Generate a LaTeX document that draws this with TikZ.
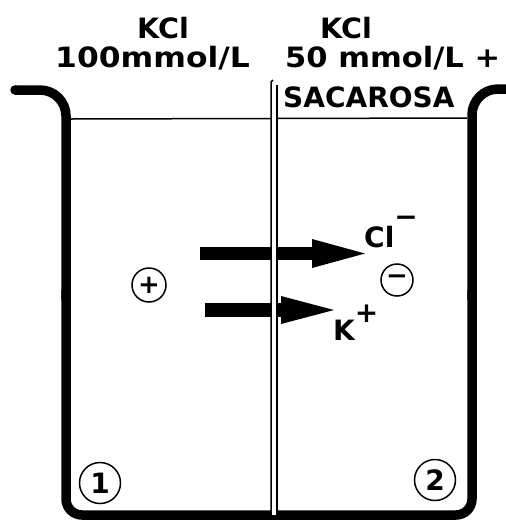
\documentclass[tikz,border=0pt]{standalone}
\usepackage{fontspec}
\setmainfont{DejaVu Sans}
\begin{document}
\begin{tikzpicture}[x=1pt,y=-1pt,
  wall/.style={line width=9.5pt},
  lbl/.style={inner sep=0pt, font=\fontsize{28}{30}\selectfont\bfseries},
  sign/.style={circle, draw, line width=1.5pt, inner sep=0pt, font=\fontsize{26}{28}\selectfont\bfseries},
  num/.style={circle, draw, line width=1.5pt, inner sep=0pt, font=\fontsize{28}{30}\selectfont\bfseries}]
\useasboundingbox (0,0) rectangle (506,520);
% beaker
\draw[wall, rounded corners=26pt] (15,90) -- (66,90) -- (66,300);
\draw[wall, rounded corners=16pt] (66,290) -- (66,515) -- (472,515) -- (472,290);
\draw[wall, rounded corners=26pt] (472,300) -- (472,89) -- (506,89);
\fill (15,90) circle[radius=4.75pt];
% liquid surface
\draw[line width=1.5pt] (71,119) -- (467,118);
% arrows
\fill (200,247) rectangle (314,260);
\fill (312,239) -- (365,253.5) -- (312,268) -- cycle;
\fill (205,303) rectangle (283,317);
\fill (281,296) -- (334,310) -- (281,324) -- cycle;
% membrane
\path[fill=white] (271,82) rectangle (277,515);
\draw[line width=1.5pt] (271,515) -- (271,82) -- (273,80);
\draw[line width=1.5pt] (277,85) -- (277,515);
% labels
\node[lbl, anchor=base west] (kcl1) at (137,38) {\scalebox{1.02}[1]{KCl}};
\node[lbl, anchor=base west] (c1) at (55,67) {\scalebox{1.12}[1]{100mmol/L}};
\node[lbl, anchor=base west] (kcl2) at (320,38) {\scalebox{1.02}[1]{KCl}};
\node[lbl, anchor=base west] (c2) at (285,67) {\scalebox{1.09}[1]{50 mmol/L +}};
\node[lbl, anchor=base west] (sac) at (283,107) {SACAROSA};
\node[lbl, anchor=base west] (cl) at (364,247) {Cl\raisebox{21pt}{−}};
\node[lbl, anchor=base west] (k) at (333,340) {K\raisebox{18pt}{+}};
% charges
\node[sign, minimum size=34pt] (plus) at (149,285) {+};
\node[sign, minimum size=32pt] (minus) at (397,280) {−};
% compartments
\node[num, minimum size=41pt] (one) at (100,483) {1};
\node[num, minimum size=41pt] (two) at (435,480) {2};
\end{tikzpicture}
\end{document}
